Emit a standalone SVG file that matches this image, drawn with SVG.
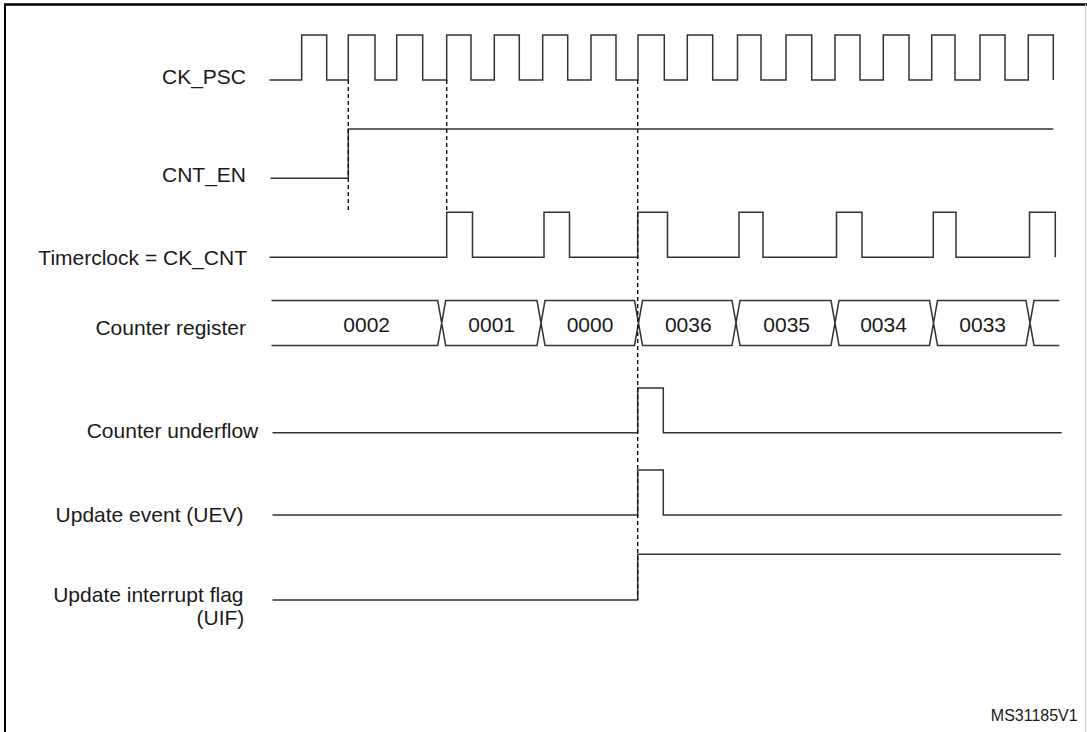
<svg xmlns="http://www.w3.org/2000/svg" width="1087" height="732" viewBox="0 0 1087 732">
<style>
.sig{fill:none;stroke:#333;stroke-width:1.5;stroke-linejoin:miter}
.dash{fill:none;stroke:#111;stroke-width:1.4;stroke-dasharray:4 3}
.lbl{font-family:"Liberation Sans",Arial,sans-serif;font-size:21px;fill:#1a1a1a;text-anchor:end}
.val{font-family:"Liberation Sans",Arial,sans-serif;font-size:21px;fill:#1a1a1a;text-anchor:middle}
.ref{font-family:"Liberation Sans",Arial,sans-serif;font-size:16px;fill:#1a1a1a;text-anchor:end}
</style>
<rect width="1087" height="732" fill="#fff"/>
<g id="frame">
<line x1="4" y1="4.5" x2="1087" y2="4.5" stroke="#000" stroke-width="2.5"/>
<line x1="5" y1="4" x2="5" y2="732" stroke="#000" stroke-width="2"/>
<line x1="1085.5" y1="4" x2="1085.5" y2="732" stroke="#ccc" stroke-width="1"/>
</g>
<g id="ck_psc">
<text class="lbl" x="246" y="84">CK_PSC</text>
<path class="sig" d="M269.5,80 H301.7 V35 H326.7 V80 H348.3 V35 H375 V80 H396.7 V35 H422.7 V80 H446.7 V35 H471 V80 H494.3 V35 H519.3 V80 H542.7 V35 H567.7 V80 H591 V35 H616 V80 H638 V35 H664.3 V80 H687.3 V35 H712.7 V80 H737.5 V35 H761 V80 H786 V35 H811.7 V80 H835 V35 H860 V80 H883.3 V35 H909 V80 H931.7 V35 H955 V80 H980 V35 H1005 V80 H1028.3 V35 H1053.3 V80"/>
</g>
<g id="cnt_en">
<text class="lbl" x="246" y="182">CNT_EN</text>
<path class="sig" d="M270.5,178.3 H348.3 V129 H1053.3"/>
</g>
<g id="ck_cnt">
<text class="lbl" x="247" y="264.5">Timerclock = CK_CNT</text>
<path class="sig" d="M269.5,257.3 H446.7 V212.3 H472.5 V257.3 H544 V212.3 H569.5 V257.3 H637.7 V212.3 H667.5 V257.3 H739 V212.3 H763 V257.3 H836.5 V212.3 H862 V257.3 H933.3 V212.3 H956 V257.3 H1029.5 V212.3 H1055.3 V257.3"/>
</g>
<g id="counter_register">
<text class="lbl" x="246" y="335">Counter register</text>
<path class="sig" d="M271.5,300.5 H437.7 L445.7,345.5 H537 L545,300.5 H634.5 L642.5,345.5 H732 L740,300.5 H831 L839,345.5 H929.5 L937.5,300.5 H1026 L1034,345.5 H1059.3 M271.5,345.5 H437.7 L445.7,300.5 H537 L545,345.5 H634.5 L642.5,300.5 H732 L740,345.5 H831 L839,300.5 H929.5 L937.5,345.5 H1026 L1034,300.5 H1059.3"/>
<text class="val" x="366.7" y="331.5">0002</text>
<text class="val" x="491.7" y="331.5">0001</text>
<text class="val" x="590" y="331.5">0000</text>
<text class="val" x="688.3" y="331.5">0036</text>
<text class="val" x="786.7" y="331.5">0035</text>
<text class="val" x="883.5" y="331.5">0034</text>
<text class="val" x="982.7" y="331.5">0033</text>
</g>
<g id="counter_underflow">
<text class="lbl" x="258.3" y="438.3">Counter underflow</text>
<path class="sig" d="M272.5,432.7 H637.7 V388 H663.3 V432.7 H1061.7"/>
</g>
<g id="uev">
<text class="lbl" x="243.5" y="521.7">Update event (UEV)</text>
<path class="sig" d="M272.5,515 H637.7 V470 H663.3 V515 H1061.7"/>
</g>
<g id="uif">
<text class="lbl" x="243.5" y="601.7">Update interrupt flag</text>
<text class="lbl" x="244.3" y="625">(UIF)</text>
<path class="sig" d="M272.5,600 H637.7 V554.3 H1060.7"/>
</g>
<g id="connectors">
<line class="dash" x1="348.3" y1="80" x2="348.3" y2="211"/>
<line class="dash" x1="446.7" y1="80" x2="446.7" y2="212"/>
<line class="dash" x1="637.7" y1="80" x2="637.7" y2="600"/>
</g>
<text class="ref" x="1077.7" y="720.7">MS31185V1</text>
</svg>
